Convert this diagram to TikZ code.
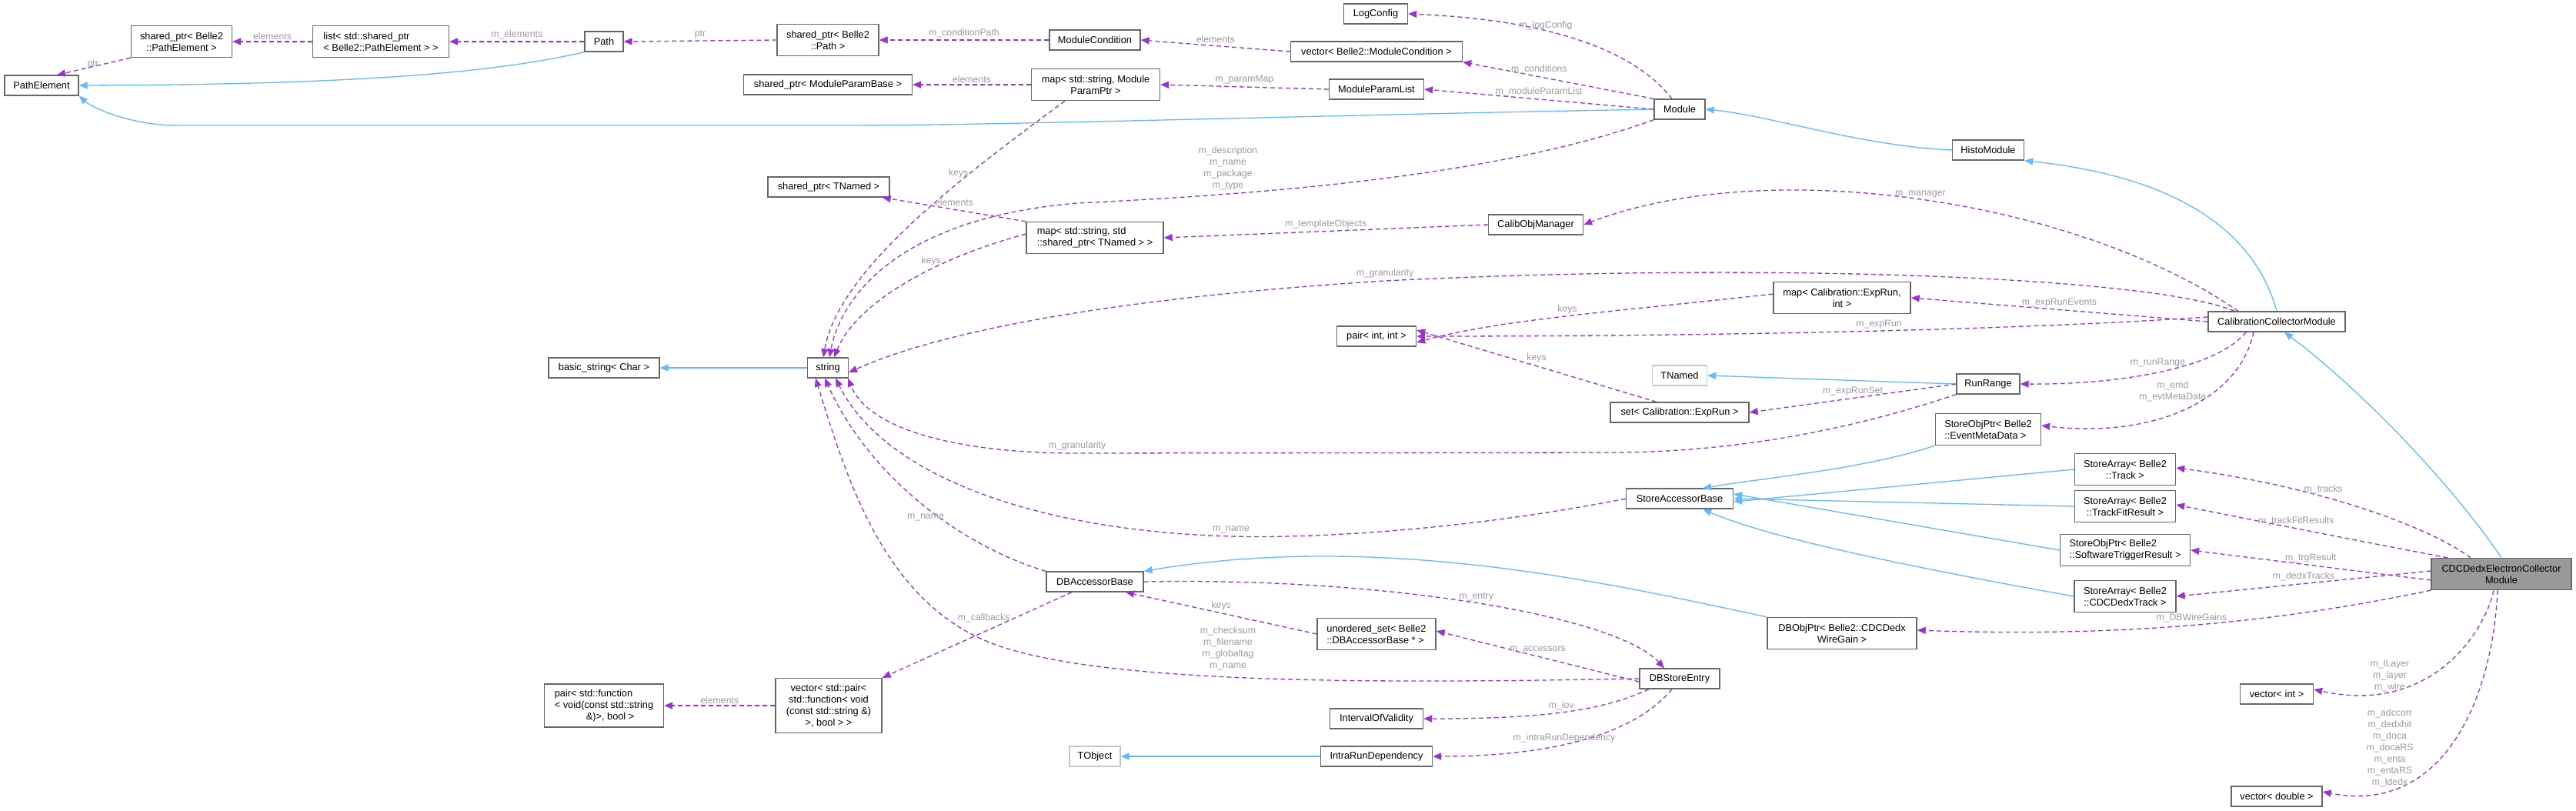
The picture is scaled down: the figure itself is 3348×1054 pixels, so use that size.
\documentclass[tikz,border=0pt]{standalone}
\usepackage{fontspec}
\setmainfont{Liberation Sans}
\usetikzlibrary{arrows.meta}
\definecolor{edgeP}{HTML}{9A32CD}
\definecolor{edgeB}{HTML}{63B8FF}
\definecolor{lbl}{HTML}{9A9A9A}
\definecolor{bord}{HTML}{666666}
\begin{document}
\begin{tikzpicture}[x=1pt,y=-1pt,
  box/.style={draw=bord,line width=1.3pt,fill=white,inner sep=2pt,align=center,font=\fontsize{12.8}{15}\selectfont},
  lbox/.style={box,align=left},
  ext/.style={box,draw=gray!45},
  use/.style={draw=edgeP,line width=1.3pt,dash pattern=on 6pt off 4pt,-{Triangle[length=11pt,width=9pt]}},
  inh/.style={draw=edgeB,line width=1.3pt,-{Triangle[length=11pt,width=9pt]}},
  lab/.style={text=lbl,font=\fontsize{12.3}{15}\selectfont,align=center,inner sep=0pt}]
\useasboundingbox (0,0) rectangle (3348,1054);
% nodes
\node[box,minimum width=131,minimum height=41] (sPE) at (236,54) {shared\_ptr< Belle2\\::PathElement >};
\node[lbox,minimum width=177,minimum height=41] (list) at (495,54) {list< std::shared\_ptr\\< Belle2::PathElement > >};
\node[box,minimum width=50,minimum height=26] (Path) at (785,54) {Path};
\node[box,minimum width=96,minimum height=26] (PE) at (54,111) {PathElement};
\node[box,minimum width=132,minimum height=41] (sPath) at (1076,52) {shared\_ptr< Belle2\\::Path >};
\node[box,minimum width=118,minimum height=26] (MC) at (1423,52) {ModuleCondition};
\node[box,minimum width=83,minimum height=26] (LC) at (1788,18) {LogConfig};
\node[box,minimum width=223,minimum height=26] (vMC) at (1789,67) {vector< Belle2::ModuleCondition >};
\node[box,minimum width=219,minimum height=26] (sMPB) at (1076,110) {shared\_ptr< ModuleParamBase >};
\node[box,minimum width=167,minimum height=41] (mP) at (1424,110) {map< std::string, Module\\ParamPtr >};
\node[box,minimum width=123,minimum height=26] (MPL) at (1789,116) {ModuleParamList};
\node[box,minimum width=66,minimum height=26] (Mod) at (2183,142) {Module};
\node[box,minimum width=93,minimum height=26] (HM) at (2584,195) {HistoModule};
\node[box,minimum width=158,minimum height=26] (sTN) at (1077,243) {shared\_ptr< TNamed >};
\node[lbox,minimum width=178,minimum height=41] (mTN) at (1423,309) {map< std::string, std\\::shared\_ptr< TNamed > >};
\node[box,minimum width=123,minimum height=26] (COM) at (1996,292) {CalibObjManager};
\node[box,minimum width=53,minimum height=26] (str) at (1076,478) {string};
\node[box,minimum width=144,minimum height=26] (bstr) at (785,478) {basic\_string< Char >};
\node[box,minimum width=103,minimum height=26] (pI) at (1789,437) {pair< int, int >};
\node[box,minimum width=178,minimum height=41] (mER) at (2394,387) {map< Calibration::ExpRun,\\int >};
\node[box,minimum width=178,minimum height=26] (CCM) at (2959,418) {CalibrationCollectorModule};
\node[ext,minimum width=71,minimum height=26] (TN) at (2183,488) {TNamed};
\node[box,minimum width=82,minimum height=26] (RR) at (2584,499) {RunRange};
\node[box,minimum width=180,minimum height=26] (sER) at (2183,536) {set< Calibration::ExpRun >};
\node[lbox,minimum width=137,minimum height=41] (EMD) at (2584,558) {StoreObjPtr< Belle2\\::EventMetaData >};
\node[box,minimum width=131,minimum height=41] (Trk) at (2762,610) {StoreArray< Belle2\\::Track >};
\node[box,minimum width=139,minimum height=26] (SAB) at (2183,648) {StoreAccessorBase};
\node[box,minimum width=131,minimum height=41] (TFR) at (2762,658) {StoreArray< Belle2\\::TrackFitResult >};
\node[lbox,minimum width=169,minimum height=41] (SWT) at (2762,715) {StoreObjPtr< Belle2\\::SoftwareTriggerResult >};
\node[box,minimum width=132,minimum height=41] (CDT) at (2762,775) {StoreArray< Belle2\\::CDCDedxTrack >};
\node[box,fill={rgb,255:red,153;green,153;blue,153},minimum width=182,minimum height=41] (CDC) at (3251,746) {CDCDedxElectronCollector\\Module};
\node[box,minimum width=194,minimum height=41] (DBO) at (2394,823) {DBObjPtr< Belle2::CDCDedx\\WireGain >};
\node[box,minimum width=126,minimum height=26] (DBAB) at (1423,756) {DBAccessorBase};
\node[lbox,minimum width=154,minimum height=41] (uS) at (1789,824) {unordered\_set< Belle2\\::DBAccessorBase * >};
\node[box,minimum width=104,minimum height=26] (DBSE) at (2183,882) {DBStoreEntry};
\node[box,minimum width=121,minimum height=26] (IOV) at (1789,934) {IntervalOfValidity};
\node[ext,minimum width=66,minimum height=26] (TO) at (1423,983) {TObject};
\node[box,minimum width=145,minimum height=26] (IRD) at (1789,983) {IntraRunDependency};
\node[box,minimum width=138,minimum height=71] (vP) at (1077,917) {vector< std::pair<\\std::function< void\\(const std::string \&)\\>, bool > >};
\node[lbox,minimum width=155,minimum height=56] (pF) at (785,917) {pair< std::function\\< void(const std::string\\\hspace*{3.2em}\&)>, bool >};
\node[box,minimum width=95,minimum height=26] (vI) at (2959,902) {vector< int >};
\node[box,minimum width=118,minimum height=26] (vD) at (2959,1035) {vector< double >};
% inheritance
\draw[inh] (Path.south west) .. controls (620,100) and (400,110) .. (PE.east);
\draw[inh] (Mod.west) .. controls (1700,150) and (1300,163) .. (1100,163) -- (231,163) .. controls (170,163) and (120,140) .. (PE.south east);
\draw[inh] (HM.west) .. controls (2420,190) and (2300,150) .. (Mod.east);
\draw[inh] (CCM.north) .. controls (2930,300) and (2830,230) .. (HM.south east);
\draw[inh] (CDC.north) .. controls (3180,620) and (3060,500) .. ([xshift=10]CCM.south);
\draw[inh] (str.west) -- (bstr.east);
\draw[inh] (RR.west) -- (TN.east);
\draw[inh] (EMD.south west) .. controls (2420,610) and (2300,620) .. ([xshift=-40]SAB.north east);
\draw[inh] (Trk.west) -- ([yshift=-4]SAB.east);
\draw[inh] (TFR.west) -- (SAB.east);
\draw[inh] (SWT.west) -- ([yshift=6]SAB.east);
\draw[inh] (CDT.west) .. controls (2500,740) and (2300,700) .. ([xshift=-40]SAB.south east);
\draw[inh] (DBO.north west) .. controls (2100,760) and (1800,690) .. (DBAB.north east);
\draw[inh] (IRD.west) -- (TO.east);
% usage
\draw[use] (list.west) -- node[lab,above=2pt]{elements} (sPE.east);
\draw[use] (Path.west) -- node[lab,above=2pt]{m\_elements} (list.east);
\draw[use] (sPath.west) -- node[lab,above=2pt]{ptr} (Path.east);
\draw[use] (sPE.south west) -- node[lab,pos=0.4,left=3pt]{ptr} ([xshift=20]PE.north);
\draw[use] (MC.west) -- node[lab,above=2pt]{m\_conditionPath} (sPath.east);
\draw[use] (vMC.west) -- node[lab,above=3pt]{elements} (MC.east);
\draw[use] ([xshift=-10]Mod.north) .. controls (2120,60) and (2000,25) .. node[lab,pos=0.6,above]{m\_logConfig} (LC.east);
\draw[use] (Mod.north west) -- node[lab,pos=0.6,above=3pt]{m\_conditions} (vMC.south east);
\draw[use] (Mod.west) -- node[lab,pos=0.5,above=3pt]{m\_moduleParamList} (MPL.east);
\draw[use] (MPL.west) -- node[lab,above=3pt]{m\_paramMap} (mP.east);
\draw[use] (mP.west) -- node[lab,above=2pt]{elements} (sMPB.east);
\draw[use] ([xshift=-40]mP.south) .. controls (1250,230) and (1090,350) .. node[lab,pos=0.3,left=2pt]{keys} ([xshift=-6]str.north);
\draw[use] (Mod.south west) .. controls (1950,228) and (1650,252) .. (1400,264) .. controls (1150,285) and (1090,400) .. ([xshift=2]str.north);
\node[lab] at (1596,219) {m\_description\\m\_name\\m\_package\\m\_type};
\draw[use] (mTN.north west) -- node[lab,pos=0.5,above=4pt]{elements} ([xshift=-10]sTN.south east);
\draw[use] ([yshift=5]mTN.west) .. controls (1200,340) and (1110,400) .. node[lab,pos=0.35,above=4pt]{keys} ([xshift=8]str.north);
\draw[use] (COM.west) -- node[lab,above=3pt]{m\_templateObjects} (mTN.east);
\draw[use] ([xshift=-50]CCM.north) .. controls (2700,260) and (2300,200) .. node[lab,pos=0.5,above=2pt]{m\_manager} (COM.east);
\draw[use] ([xshift=-55]CCM.north) .. controls (2800,360) and (2300,340) .. (1800,365) .. controls (1400,390) and (1200,440) .. node[lab,pos=0.0,above=3pt]{m\_granularity} ([yshift=-6]str.east);
\draw[use] (CCM.west) -- node[lab,above=3pt]{m\_expRunEvents} (mER.east);
\draw[use] ([yshift=6]CCM.west) .. controls (2600,430) and (2200,437) .. node[lab,pos=0.45,above=2pt]{m\_expRun} (pI.east);
\draw[use] ([yshift=5]mER.west) .. controls (2100,405) and (1950,415) .. node[lab,pos=0.5,above=2pt]{keys} ([yshift=-8]pI.east);
\draw[use] ([xshift=-30]sER.north) -- node[lab,pos=0.5,above=4pt]{keys} ([yshift=8]pI.east);
\draw[use] (RR.west) -- node[lab,pos=0.5,above=3pt]{m\_expRunSet} (sER.east);
\draw[use] ([xshift=-40]CCM.south) .. controls (2880,480) and (2750,500) .. node[lab,pos=0.5,above=6pt]{m\_runRange} (RR.east);
\draw[use] ([xshift=-30]CCM.south) .. controls (2910,520) and (2800,570) .. node[lab,pos=0.35,left=10pt]{m\_emd\\m\_evtMetaData} ([yshift=5]EMD.east);
\draw[use] (RR.south west) .. controls (2460,540) and (2300,587) .. (2100,588) -- (1400,589) .. controls (1250,589) and (1130,560) .. node[lab,pos=0,above=3pt]{m\_granularity} ([xshift=26]str.south);
\draw[use] (SAB.west) .. controls (1900,690) and (1700,700) .. (1600,697) .. controls (1350,690) and (1150,620) .. node[lab,pos=0,above=3pt]{m\_name} ([xshift=10]str.south);
\draw[use] (DBAB.north west) .. controls (1250,710) and (1130,620) .. node[lab,pos=0.4,above left]{m\_name} ([xshift=-4]str.south);
\draw[use] (DBSE.west) .. controls (1800,888) and (1450,890) .. (1300,840) .. controls (1150,790) and (1100,620) .. ([xshift=-16]str.south);
\node[lab] at (1596,843) {m\_checksum\\m\_filename\\m\_globaltag\\m\_name};
\draw[use] ([xshift=-30]DBAB.south) -- node[lab,pos=0.3,left=6pt]{m\_callbacks} (vP.north east);
\draw[use] (vP.west) -- node[lab,above=2pt]{elements} (pF.east);
\draw[use] (DBAB.east) .. controls (1800,750) and (2100,800) .. node[lab,pos=0.5,above=3pt]{m\_entry} ([xshift=-20]DBSE.north);
\draw[use] (uS.west) -- node[lab,pos=0.5,above=3pt]{keys} ([xshift=40]DBAB.south);
\draw[use] ([yshift=-4]DBSE.west) -- node[lab,pos=0.5,above=3pt]{m\_accessors} ([yshift=4]uS.east);
\draw[use] ([xshift=-40]DBSE.south) .. controls (2080,925) and (2000,934) .. node[lab,pos=0.5,above=2pt]{m\_iov} (IOV.east);
\draw[use] ([xshift=-10]DBSE.south) .. controls (2120,960) and (2000,983) .. node[lab,pos=0.55,above=2pt]{m\_intraRunDependency} (IRD.east);
\draw[use] ([xshift=-40]CDC.north) .. controls (3150,680) and (3000,630) .. node[lab,pos=0.6,above=3pt]{m\_tracks} ([yshift=2]Trk.east);
\draw[use] ([xshift=-70]CDC.north) .. controls (3050,700) and (2950,680) .. node[lab,pos=0.55,above=3pt]{m\_trackFitResults} ([yshift=2]TFR.east);
\draw[use] ([yshift=-8]CDC.west) -- node[lab,pos=0.5,above=3pt]{m\_trgResult} (SWT.east);
\draw[use] ([yshift=4]CDC.west) -- node[lab,pos=0.5,above=3pt]{m\_dedxTracks} (CDT.east);
\draw[use] (CDC.south west) .. controls (3000,800) and (2800,830) .. node[lab,pos=0.55,above=3pt]{m\_DBWireGains} ([yshift=4]DBO.east);
\draw[use] ([xshift=-10]CDC.south) .. controls (3230,820) and (3160,930) .. ([yshift=6]vI.east);
\node[lab] at (3106,878) {m\_lLayer\\m\_layer\\m\_wire};
\draw[use] ([xshift=-5]CDC.south) .. controls (3240,900) and (3180,1060) .. ([yshift=6]vD.east);
\node[lab] at (3106,972) {m\_adccorr\\m\_dedxhit\\m\_doca\\m\_docaRS\\m\_enta\\m\_entaRS\\m\_ldedx};
\end{tikzpicture}
\end{document}
